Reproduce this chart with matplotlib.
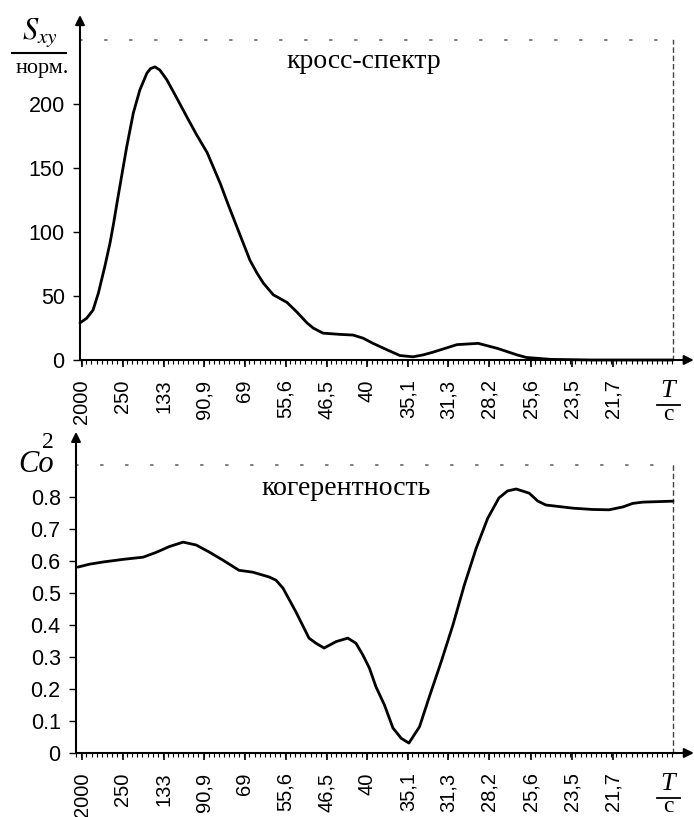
import matplotlib
matplotlib.use('Agg')
import matplotlib.pyplot as plt
from matplotlib.lines import Line2D
from matplotlib.ticker import MultipleLocator, FixedLocator

# ---- data (frequency in mHz, x-axis labelled by period T, s) ----
period_labels = ['2000', '250', '133', '90,9', '69', '55,6', '46,5', '40',
                 '35,1', '31,3', '28,2', '25,6', '23,5', '21,7']

spec_freq = [0.33, 0.9, 1.45, 1.9, 2.46, 2.92, 3.2, 3.55, 3.93, 4.35, 4.91,
             5.47, 6.07, 6.38, 6.77, 7.19, 7.78, 8.62, 9.5, 10.34, 11.25,
             12.37, 13.03, 13.8, 14.92, 15.52, 16.08, 16.92, 18.1, 18.95, 19.82,
             20.35, 21.19, 22.66, 23.78, 24.65, 25.49, 26.68, 27.8, 28.92, 29.8,
             30.6, 32.7, 34.52, 36.2, 37.85, 38.65, 40.75, 44.25, 47.75, 51.25]
spec_val = [29, 32.6, 39, 52, 73, 92, 106, 125, 145, 167, 193,
            211, 224, 227.6, 229, 226.5, 219, 205, 190, 176, 162,
            138, 122, 104, 78, 68, 60, 51, 45, 37.5, 29,
            25, 21, 20, 19.5, 17, 13, 8, 3.5, 2.5, 4,
            6, 12, 13, 9, 4, 2, 0.5, 0, 0, 0]

coh_freq = [0.15, 1.13, 2.32, 4.0, 5.75, 6.87, 7.99, 9.18, 10.3, 11.42, 12.58,
            13.98, 15.17, 16.57, 17.16, 17.76, 18.88, 19.99, 20.59, 21.29, 22.31,
            23.32, 24.02, 24.62, 25.18, 25.74, 26.47, 27.2, 27.91, 28.57, 29.48,
            30.29, 31.34, 32.35, 33.33, 34.35, 35.33, 36.3, 37.04, 37.78, 38.9,
            39.63, 40.33, 42.68, 44.36, 45.76, 46.95, 47.79, 48.66, 51.25]
coh_val = [0.581, 0.59, 0.597, 0.605, 0.612, 0.627, 0.645, 0.659, 0.65, 0.628, 0.603,
           0.571, 0.565, 0.55, 0.54, 0.515, 0.44, 0.359, 0.343, 0.328, 0.348,
           0.359, 0.343, 0.306, 0.265, 0.207, 0.15, 0.078, 0.046, 0.031, 0.082,
           0.172, 0.285, 0.40, 0.525, 0.64, 0.733, 0.797, 0.819, 0.825, 0.812,
           0.7875, 0.775, 0.765, 0.761, 0.76, 0.769, 0.78, 0.784, 0.787]

spec_yticks = [0, 50, 100, 150, 200]
coh_yticks = [0, 0.1, 0.2, 0.3, 0.4, 0.5, 0.6, 0.7, 0.8]
coh_yticklabels = ['0', '0.1', '0.2', '0.3', '0.4', '0.5', '0.6', '0.7', '0.8']

W, H = 694, 817
fig = plt.figure(figsize=(W / 100, H / 100), dpi=100)


def fx(x):
    return x / W


def fy(y):
    return 1 - y / H


SANS = 'Liberation Sans'
SERIF = 'Liberation Serif'
plt.rcParams['mathtext.fontset'] = 'stix'

tick_pos = [1000.0 / float(t.replace(',', '.')) for t in period_labels]

ax1 = fig.add_axes([fx(80), fy(360), fx(673) - fx(80), fy(40) - fy(360)])
ax2 = fig.add_axes([fx(76), fy(753), fx(673) - fx(76), fy(465) - fy(753)])

ax1.plot(spec_freq, spec_val, color='black', lw=2.0, solid_joinstyle='round',
         solid_capstyle='round', clip_on=False, zorder=5)
ax2.plot(coh_freq, coh_val, color='black', lw=2.0, solid_joinstyle='round',
         solid_capstyle='round', clip_on=False, zorder=5)

ax1.set_xlim(0.33, 51.25)
ax1.set_ylim(0, 250)
ax2.set_xlim(-0.02, 51.25)
ax2.set_ylim(0, 0.9)

ax1.set_yticks(spec_yticks)
ax1.set_yticklabels([str(v) for v in spec_yticks])
ax2.set_yticks(coh_yticks)
ax2.set_yticklabels(coh_yticklabels)

for ax, arrow_top in ((ax1, 1.078), (ax2, 1.115)):
    ax.xaxis.set_major_locator(FixedLocator(tick_pos))
    ax.set_xticklabels(period_labels)
    ax.xaxis.set_minor_locator(MultipleLocator(3.5 / 8))
    ax.tick_params(axis='x', which='major', direction='out', length=5, width=1.2,
                   pad=9, labelsize=14.5, labelrotation=90)
    ax.tick_params(axis='x', which='minor', direction='out', length=3, width=0.8)
    ax.tick_params(axis='y', direction='out', length=5, width=1.0, pad=6,
                   labelsize=15.5)
    for lab in ax.get_xticklabels() + ax.get_yticklabels():
        lab.set_fontfamily(SANS)
    ax.spines['left'].set_visible(False)
    ax.spines['bottom'].set_visible(False)
    ax.spines['top'].set_linestyle((0, (1, 14)))
    ax.spines['top'].set_color('#666666')
    ax.spines['top'].set_linewidth(1.2)
    ax.spines['right'].set_linestyle((0, (3, 3)))
    ax.spines['right'].set_color('#444444')
    ax.spines['right'].set_linewidth(1.0)
    ax.patch.set_alpha(0)
    ax.annotate('', xy=(0, arrow_top), xytext=(0, 0), xycoords='axes fraction',
                textcoords='axes fraction', annotation_clip=False,
                arrowprops=dict(arrowstyle='-|>', lw=1.5, color='black',
                                shrinkA=0, shrinkB=0, mutation_scale=14))
    ax.annotate('', xy=(1.035, 0), xytext=(0, 0), xycoords='axes fraction',
                textcoords='axes fraction', annotation_clip=False,
                arrowprops=dict(arrowstyle='-|>', lw=1.5, color='black',
                                shrinkA=0, shrinkB=0, mutation_scale=14))

# panel titles
fig.text(fx(364), fy(62), 'кросс-спектр', family=SERIF, fontsize=20,
         ha='center', va='center')
fig.text(fx(346), fy(488), 'когерентность', family=SERIF, fontsize=20,
         ha='center', va='center')

# y-axis label of top panel: S_xy / норм.
fig.text(fx(40), fy(33), r'$S_{xy}$', fontsize=22, ha='center', va='center')
fig.add_artist(Line2D([fx(12), fx(66)], [fy(53), fy(53)], color='black', lw=1.5))
fig.text(fx(42), fy(69), 'норм.', family=SERIF, fontsize=16, ha='center',
         va='center')

# y-axis label of bottom panel: Co^2
fig.text(fx(36), fy(465), 'Co', family=SERIF, style='italic', fontsize=22,
         ha='center', va='center')
fig.text(fx(48), fy(442), '2', family=SERIF, fontsize=17, ha='center',
         va='center')

# x-axis unit T / c
for base in (360, 753):
    fig.text(fx(668), fy(base + 31), 'T', family=SERIF, style='italic',
             fontsize=19, ha='center', va='center')
    fig.add_artist(Line2D([fx(657), fx(680)], [fy(base + 45), fy(base + 45)],
                          color='black', lw=1.3))
    fig.text(fx(668), fy(base + 54), 'c', family=SERIF, fontsize=17,
             ha='center', va='center')

fig.savefig('out.png', dpi=100)
